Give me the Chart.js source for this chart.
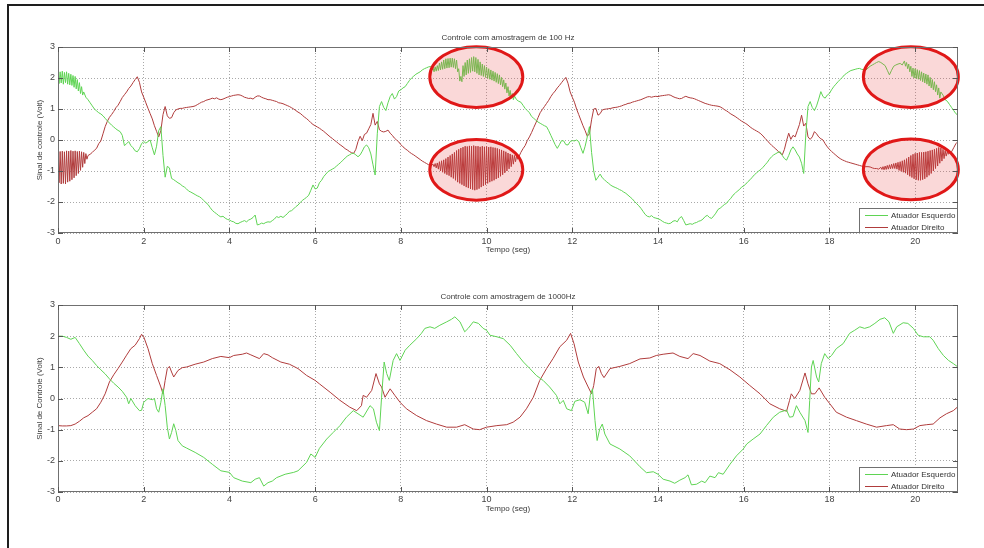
<!DOCTYPE html>
<html>
<head>
<meta charset="utf-8">
<script src="https://cdn.jsdelivr.net/npm/chart.js@4"></script>
<style>
  body { margin: 0; background: #fff; width: 984px; height: 548px; overflow: hidden; position: relative; }
  #frame { position: absolute; left: 7px; top: 4px; width: 1000px; height: 560px; border-top: 2px solid #1e1e1e; border-left: 2px solid #1e1e1e; }
  canvas { position: absolute; left: 0; }
  #top-chart { top: 0; }
  #bottom-chart { top: 265px; }
</style>
</head>
<body>
<div id="frame"></div>
<canvas id="top-chart" width="984" height="265"></canvas>
<canvas id="bottom-chart" width="984" height="283"></canvas>
<script>
// top plot: 100 Hz sampling, one value every 0.05 s from 0 to 21 s
const topStep = 0.05;

const topGreen = [
  2.15, 1.85, 2.2, 1.82, 2.22, 1.8, 2.15, 1.75, 2.05, 1.65, 1.85, 1.45, 1.55, 1.38, 1.3, 1.2, 1.1, 1.0, 0.94, 0.88,
  0.84, 0.78, 0.7, 0.62, 0.55, 0.48, 0.42, 0.36, 0.31, 0.27, 0.15, -0.18, -0.12, -0.05, -0.18, -0.25, -0.35, -0.38, -0.28, -0.12,
  -0.05, -0.1, -0.05, 0.0, -0.25, -0.48, -0.2, 0.3, 0.43, -0.5, -1.2, -0.85, -0.9, -1.24, -1.28, -1.33, -1.38, -1.42, -1.48, -1.52,
  -1.58, -1.65, -1.68, -1.72, -1.76, -1.8, -1.83, -1.88, -1.95, -2.02, -2.08, -2.18, -2.27, -2.33, -2.38, -2.44, -2.48, -2.46, -2.52, -2.56,
  -2.58, -2.62, -2.64, -2.69, -2.7, -2.66, -2.63, -2.6, -2.64, -2.58, -2.55, -2.5, -2.42, -2.74, -2.72, -2.68, -2.7, -2.66, -2.64, -2.65,
  -2.6, -2.55, -2.47, -2.5, -2.46, -2.5, -2.44, -2.38, -2.3, -2.28, -2.22, -2.15, -2.1, -2.02, -1.95, -1.9, -1.85, -1.78, -1.62, -1.45,
  -1.58, -1.55, -1.38, -1.3, -1.18, -1.1, -1.02, -0.98, -0.94, -0.9, -0.84, -0.78, -0.72, -0.65, -0.58, -0.52, -0.48, -0.44, -0.43, -0.48,
  -0.54, -0.48, -0.36, -0.22, -0.16, -0.25, -0.45, -0.8, -1.13, 0.2, 1.08, 1.24, 1.05, 0.95, 1.2, 1.4, 1.5, 1.32, 1.4, 1.58,
  1.62, 1.68, 1.72, 1.82, 1.92, 2.0, 2.06, 2.12, 2.16, 2.2, 2.26, 2.3, 2.33, 2.36, 2.37, 2.32, 2.22, 2.4, 2.26, 2.5,
  2.3, 2.62, 2.32, 2.64, 2.35, 2.6, 2.25, 2.1, 1.85, 2.4, 2.05, 2.6, 2.22, 2.68, 2.25, 2.65, 2.12, 2.45, 2.05, 2.35,
  2.0, 2.3, 1.95, 2.2, 1.88, 2.12, 1.78, 2.02, 1.62, 1.8, 1.38, 1.58, 1.28, 1.4, 1.3, 1.25, 1.22, 1.12, 1.02, 0.95,
  0.88, 0.76, 0.7, 0.64, 0.58, 0.54, 0.5, 0.46, 0.43, 0.3, 0.15, 0.0, -0.15, -0.27, -0.15, -0.02, -0.03, -0.15, -0.16, -0.05,
  -0.02, -0.03, 0.0, -0.05, -0.25, -0.43, -0.2, 0.1, 0.43, -0.4, -1.0, -1.3, -1.2, -1.1, -1.22, -1.28, -1.35, -1.4, -1.46, -1.5,
  -1.53, -1.56, -1.6, -1.63, -1.68, -1.72, -1.78, -1.84, -1.9, -1.98, -2.05, -2.12, -2.2, -2.3, -2.4, -2.46, -2.48, -2.44, -2.5, -2.52,
  -2.54, -2.57, -2.62, -2.66, -2.68, -2.7, -2.68, -2.62, -2.6, -2.64, -2.52, -2.47, -2.6, -2.74, -2.72, -2.7, -2.72, -2.68, -2.66, -2.62,
  -2.6, -2.55, -2.47, -2.43, -2.5, -2.53, -2.45, -2.36, -2.24, -2.2, -2.14, -2.08, -2.04, -1.95, -1.88, -1.78, -1.72, -1.65, -1.6, -1.52,
  -1.48, -1.42, -1.34, -1.28, -1.2, -1.12, -1.06, -1.0, -0.95, -0.88, -0.8, -0.72, -0.62, -0.54, -0.48, -0.44, -0.4, -0.38, -0.5, -0.6,
  -0.65, -0.5, -0.32, -0.22, -0.32, -0.45, -0.55, -0.75, -1.08, 0.2, 1.08, 1.24, 1.05, 0.95, 1.1, 1.32, 1.56, 1.4, 1.35, 1.45,
  1.5, 1.62, 1.72, 1.8, 1.88, 1.95, 2.02, 2.1, 2.15, 2.2, 2.24, 2.26, 2.28, 2.3, 2.31, 2.28, 2.27, 2.26, 2.32, 2.38,
  2.42, 2.46, 2.5, 2.53, 2.5, 2.45, 2.4, 2.25, 2.1, 2.25, 2.38, 2.42, 2.45, 2.47, 2.42, 2.56, 2.36, 2.5, 2.25, 2.4,
  2.05, 2.3, 1.98, 2.22, 1.92, 2.15, 1.8, 2.05, 1.7, 1.92, 1.55, 1.72, 1.35, 1.45, 1.3, 1.25, 1.15, 1.05, 0.95, 0.85,
  0.8
];

const topRed = [
  -0.35, -1.38, -0.38, -1.4, -0.36, -1.35, -0.35, -1.25, -0.35, -1.12, -0.36, -0.95, -0.4, -0.72, -0.5, -0.46, -0.4, -0.33, -0.27, -0.12,
  -0.03, 0.2, 0.43, 0.6, 0.73, 0.82, 0.92, 1.04, 1.12, 1.24, 1.37, 1.46, 1.55, 1.66, 1.74, 1.85, 1.95, 2.04, 1.86, 1.55,
  1.38, 1.2, 1.02, 0.85, 0.68, 0.46, 0.28, 0.1, 0.3, 0.82, 1.08, 0.78, 0.7, 0.72, 0.88, 0.97, 1.0, 1.02, 1.02, 1.04,
  1.05, 1.06, 1.07, 1.08, 1.1, 1.14, 1.18, 1.22, 1.24, 1.28, 1.3, 1.32, 1.35, 1.33, 1.36, 1.32, 1.3, 1.32, 1.35, 1.38,
  1.4, 1.42, 1.44, 1.45, 1.46, 1.45, 1.42, 1.38, 1.36, 1.34, 1.35, 1.32, 1.38, 1.42, 1.42, 1.38, 1.35, 1.33, 1.3, 1.3,
  1.28, 1.26, 1.24, 1.2, 1.19, 1.17, 1.14, 1.11, 1.08, 1.04, 1.0, 0.95, 0.9, 0.86, 0.8, 0.74, 0.69, 0.63, 0.56, 0.5,
  0.46, 0.42, 0.38, 0.33, 0.28, 0.22, 0.16, 0.1, 0.05, -0.01, -0.06, -0.12, -0.17, -0.22, -0.28, -0.32, -0.37, -0.41, -0.43, -0.3,
  -0.05, 0.12, -0.02, 0.18, 0.22, 0.36, 0.5, 0.86, 0.48, 0.6, 0.33, 0.28, 0.26, 0.28, 0.32, 0.22, 0.15, 0.06, 0.0, -0.06,
  -0.15, -0.22, -0.28, -0.33, -0.39, -0.44, -0.48, -0.53, -0.58, -0.63, -0.68, -0.72, -0.76, -0.8, -0.84, -0.78, -0.9, -0.72, -0.98, -0.66,
  -1.05, -0.6, -1.12, -0.5, -1.2, -0.42, -1.3, -0.3, -1.4, -0.22, -1.48, -0.2, -1.55, -0.22, -1.6, -0.2, -1.58, -0.22, -1.5, -0.22,
  -1.42, -0.22, -1.35, -0.24, -1.28, -0.28, -1.2, -0.32, -1.1, -0.38, -0.98, -0.45, -0.85, -0.5, -0.7, -0.55, -0.4, -0.28, -0.18, -0.02,
  0.1, 0.24, 0.4, 0.55, 0.72, 0.88, 0.98, 1.08, 1.18, 1.28, 1.4, 1.5, 1.58, 1.68, 1.76, 1.85, 1.94, 2.02, 1.83, 1.55,
  1.38, 1.22, 1.0, 0.82, 0.64, 0.46, 0.3, 0.12, 0.2, 0.65, 1.0, 1.02, 0.8, 0.85, 0.97, 0.99, 1.0, 1.01, 1.02, 1.04,
  1.05, 1.06, 1.08, 1.1, 1.13, 1.15, 1.18, 1.19, 1.22, 1.24, 1.26, 1.28, 1.3, 1.33, 1.36, 1.39, 1.4, 1.38, 1.4, 1.41,
  1.4, 1.42, 1.43, 1.44, 1.45, 1.46, 1.44, 1.4, 1.37, 1.35, 1.33, 1.34, 1.38, 1.41, 1.38, 1.36, 1.35, 1.33, 1.3, 1.27,
  1.24, 1.21, 1.18, 1.16, 1.14, 1.12, 1.11, 1.1, 1.09, 1.07, 1.03, 0.98, 0.94, 0.89, 0.84, 0.8, 0.76, 0.71, 0.66, 0.61,
  0.57, 0.53, 0.48, 0.42, 0.37, 0.33, 0.29, 0.25, 0.2, 0.13, 0.05, -0.02, -0.1, -0.17, -0.23, -0.29, -0.36, -0.43, -0.48, -0.3,
  -0.02, 0.22, 0.02, 0.15, 0.1, 0.3, 0.5, 0.8, 0.45, 0.54, 0.1, 0.02, 0.1, 0.27, 0.2, 0.1, 0.04, 0.0, -0.12, -0.22,
  -0.3, -0.37, -0.43, -0.49, -0.55, -0.6, -0.64, -0.67, -0.7, -0.72, -0.74, -0.76, -0.78, -0.8, -0.82, -0.84, -0.86, -0.86, -0.86, -0.87,
  -0.9, -0.92, -0.92, -0.94, -0.9, -0.95, -0.82, -0.92, -0.8, -0.9, -0.74, -0.92, -0.72, -1.0, -0.68, -1.06, -0.6, -1.15, -0.52, -1.22,
  -0.45, -1.28, -0.42, -1.3, -0.4, -1.25, -0.38, -1.15, -0.35, -1.0, -0.32, -0.85, -0.3, -0.72, -0.35, -0.55, -0.45, -0.38, -0.25, -0.12,
  -0.05
];

// stretches where the 100 Hz signal chatters; read at a finer 0.025 s spacing
const burstStep = 0.025;

const greenBurstStart = [
  2.15, 1.82, 2.2, 1.84, 2.22, 1.8, 2.18, 1.85, 2.2, 1.8, 2.15, 1.78, 2.12, 1.76, 2.08, 1.7, 2.05, 1.65, 1.95, 1.58,
  1.85, 1.5, 1.72, 1.45, 1.55
];
const greenBurstMid = [
  2.32, 2.2, 2.36, 2.22, 2.4, 2.24, 2.48, 2.26, 2.52, 2.28,
  2.58, 2.3, 2.62, 2.32, 2.63, 2.33, 2.64, 2.35, 2.64, 2.34, 2.62, 2.3, 2.58, 2.2, 2.3, 1.9, 2.05, 1.88, 2.4, 2.05,
  2.5, 2.1, 2.58, 2.15, 2.62, 2.18, 2.66, 2.22, 2.69, 2.2, 2.66, 2.15, 2.6, 2.1, 2.52, 2.08, 2.45, 2.05, 2.4, 2.02,
  2.35, 1.99, 2.3, 1.96, 2.26, 1.93, 2.22, 1.9, 2.18, 1.86, 2.14, 1.82, 2.1, 1.78, 2.02, 1.72, 1.94, 1.64, 1.84, 1.52,
  1.72, 1.42, 1.6, 1.34, 1.5, 1.3, 1.42
];
const greenBurstEnd = [
  2.55, 2.38, 2.5, 2.3, 2.45, 2.2, 2.38, 2.05, 2.32, 2.0,
  2.3, 1.98, 2.27, 1.96, 2.24, 1.92, 2.2, 1.88, 2.16, 1.84, 2.13, 1.8, 2.1, 1.74, 2.02, 1.68, 1.95, 1.62, 1.88, 1.56,
  1.78, 1.45, 1.68, 1.35, 1.55
];
const redBurstStart = [
  -0.35, -1.38, -0.37, -1.42, -0.36, -1.4, -0.38, -1.42, -0.35, -1.36, -0.36, -1.33, -0.34, -1.28, -0.36, -1.22, -0.35, -1.15, -0.37, -1.08,
  -0.36, -0.98, -0.38, -0.88, -0.4, -0.76, -0.44, -0.62, -0.5
];
const redBurstMid = [
  -0.78, -0.86, -0.76, -0.9, -0.74, -0.94, -0.7, -1.0, -0.67, -1.04,
  -0.64, -1.08, -0.6, -1.12, -0.55, -1.15, -0.5, -1.2, -0.45, -1.24, -0.4, -1.3, -0.34, -1.36, -0.3, -1.4, -0.26, -1.44, -0.23, -1.48,
  -0.2, -1.52, -0.21, -1.55, -0.19, -1.58, -0.2, -1.6, -0.18, -1.62, -0.2, -1.6, -0.2, -1.57, -0.22, -1.52, -0.2, -1.48, -0.22, -1.44,
  -0.21, -1.4, -0.23, -1.36, -0.22, -1.33, -0.24, -1.3, -0.25, -1.26, -0.27, -1.22, -0.3, -1.17, -0.32, -1.12, -0.35, -1.06, -0.38, -1.0,
  -0.42, -0.93, -0.45, -0.86, -0.48, -0.78, -0.5, -0.7, -0.52, -0.62, -0.55
];
const redBurstEnd = [
  -0.88, -0.95, -0.86, -0.96, -0.84, -0.95, -0.82, -0.94, -0.8, -0.93, -0.78, -0.92, -0.76, -0.92, -0.74, -0.94, -0.72, -0.98, -0.7, -1.01,
  -0.67, -1.04, -0.64, -1.07, -0.6, -1.12, -0.55, -1.17, -0.5, -1.21, -0.46, -1.25,
  -0.43, -1.28, -0.42, -1.3, -0.4, -1.3, -0.4, -1.28, -0.39, -1.25, -0.38, -1.2, -0.36, -1.14, -0.34, -1.08, -0.32, -1.0,
  -0.3, -0.92, -0.27, -0.84, -0.24, -0.75, -0.26, -0.68, -0.3, -0.6, -0.34, -0.52, -0.38, -0.46, -0.4
];

const greenBursts = [
  { from: 0, values: greenBurstStart },
  { from: 8.75, values: greenBurstMid },
  { from: 19.75, values: greenBurstEnd }
];
const redBursts = [
  { from: 0, values: redBurstStart },
  { from: 8.75, values: redBurstMid },
  { from: 19.2, values: redBurstEnd }
];

// bottom plot: 1000 Hz sampling, [time (s), volt]
const bottomGreen = [
  [0, 2.0], [0.1, 2.0], [0.2, 1.96], [0.3, 1.9], [0.4, 1.96], [0.5, 1.76], [0.6, 1.55], [0.7, 1.36], [0.8, 1.22], [0.9, 1.06],
  [1.0, 0.92], [1.1, 0.79], [1.2, 0.63], [1.3, 0.49], [1.4, 0.37], [1.5, 0.23], [1.6, 0.04], [1.65, -0.17], [1.7, 0.0], [1.8, -0.23], [1.9, -0.39], [1.95, -0.38],
  [2.0, -0.12], [2.1, 0.0], [2.2, -0.04], [2.25, 0.0], [2.3, -0.33], [2.35, -0.44], [2.4, -0.12], [2.45, 0.31], [2.5, -0.23], [2.55, -0.92], [2.6, -1.3], [2.65, -1.09], [2.7, -0.81], [2.75, -1.03], [2.8, -1.35], [2.9, -1.52],
  [3.0, -1.59], [3.2, -1.73], [3.4, -1.89], [3.6, -2.11], [3.8, -2.32], [4.0, -2.37], [4.1, -2.54], [4.3, -2.65], [4.5, -2.7], [4.6, -2.59], [4.7, -2.54], [4.8, -2.81], [4.9, -2.7],
  [5.0, -2.65], [5.1, -2.54], [5.3, -2.43], [5.5, -2.37], [5.6, -2.32], [5.8, -2.05], [5.9, -1.78], [6.0, -1.89], [6.1, -1.6], [6.27, -1.3], [6.42, -1.09], [6.58, -0.87], [6.73, -0.6], [6.89, -0.39],
  [7.0, -0.49], [7.12, -0.6], [7.28, -0.23], [7.36, -0.33], [7.43, -0.76], [7.5, -1.03], [7.55, 0.04], [7.61, 1.17], [7.67, 0.8], [7.73, 0.58], [7.82, 1.22], [7.9, 1.44], [7.98, 1.22],
  [8.1, 1.55], [8.21, 1.71], [8.37, 1.92], [8.48, 2.09], [8.56, 2.25], [8.68, 2.3], [8.79, 2.25], [8.91, 2.35],
  [9.07, 2.46], [9.18, 2.54], [9.26, 2.62], [9.38, 2.46], [9.49, 2.14], [9.57, 2.25], [9.69, 2.46], [9.81, 2.41], [9.92, 2.25],
  [10.0, 2.19], [10.08, 2.03], [10.24, 1.98], [10.39, 1.92], [10.55, 1.71], [10.7, 1.44], [10.86, 1.17],
  [11.01, 0.96], [11.16, 0.74], [11.32, 0.58], [11.47, 0.37], [11.63, 0.1], [11.71, -0.17], [11.79, -0.06], [11.87, -0.33], [11.98, -0.39],
  [12.06, -0.09], [12.18, -0.04], [12.29, -0.12], [12.37, -0.49], [12.42, 0.1], [12.47, 0.31], [12.53, -0.71], [12.58, -1.35], [12.64, -0.98], [12.7, -0.82], [12.76, -1.14], [12.88, -1.46],
  [13.11, -1.62], [13.34, -1.84], [13.58, -2.19], [13.73, -2.38], [13.89, -2.35],
  [14.0, -2.43], [14.12, -2.59], [14.28, -2.65], [14.39, -2.72], [14.51, -2.62], [14.63, -2.54], [14.7, -2.45], [14.78, -2.77], [14.9, -2.75],
  [15.02, -2.65], [15.1, -2.7], [15.21, -2.49], [15.33, -2.54], [15.41, -2.38], [15.52, -2.43], [15.68, -2.11], [15.83, -1.84], [15.99, -1.62],
  [16.07, -1.46], [16.22, -1.3], [16.38, -1.14], [16.53, -0.87], [16.69, -0.6], [16.84, -0.44],
  [17.0, -0.37], [17.07, -0.6], [17.15, -0.58], [17.23, -0.23], [17.31, -0.44], [17.43, -0.71], [17.5, -1.09], [17.54, -0.06], [17.58, 1.01], [17.62, 1.22], [17.7, 0.69], [17.75, 0.53], [17.81, 1.12], [17.89, 1.44], [17.97, 1.28],
  [18.05, 1.38], [18.16, 1.6], [18.32, 1.76], [18.47, 2.09], [18.59, 2.19], [18.71, 2.3], [18.82, 2.25], [18.94, 2.3],
  [19.06, 2.41], [19.18, 2.54], [19.29, 2.59], [19.39, 2.46], [19.49, 2.09], [19.57, 2.3], [19.72, 2.43], [19.83, 2.41], [19.96, 2.25],
  [20.07, 2.03], [20.19, 1.98], [20.34, 1.98], [20.42, 1.87], [20.54, 1.6], [20.66, 1.38], [20.78, 1.22], [20.89, 1.12], [21.0, 1.01]
];

const bottomRed = [
  [0, -0.87], [0.1, -0.88], [0.2, -0.88], [0.3, -0.87], [0.4, -0.82], [0.5, -0.73], [0.6, -0.62], [0.7, -0.55], [0.8, -0.44], [0.9, -0.33],
  [1.0, -0.12], [1.1, 0.15], [1.2, 0.53], [1.3, 0.76], [1.4, 0.96], [1.5, 1.17], [1.6, 1.39], [1.7, 1.6], [1.8, 1.71], [1.9, 1.92], [1.95, 2.06],
  [2.0, 1.98], [2.1, 1.6], [2.2, 1.12], [2.3, 0.74], [2.4, 0.37], [2.45, 0.15], [2.5, 0.58], [2.55, 0.96], [2.6, 1.03], [2.65, 0.85], [2.7, 0.69], [2.8, 0.9], [2.9, 0.99],
  [3.0, 1.01], [3.2, 1.1], [3.4, 1.17], [3.6, 1.28], [3.8, 1.35], [4.0, 1.31], [4.1, 1.38], [4.3, 1.42], [4.4, 1.46], [4.5, 1.4], [4.7, 1.28], [4.8, 1.44], [4.9, 1.4],
  [5.0, 1.31], [5.2, 1.17], [5.4, 1.1], [5.6, 0.96], [5.8, 0.74], [6.0, 0.58], [6.1, 0.47], [6.35, 0.2], [6.58, -0.06], [6.81, -0.28], [6.97, -0.39],
  [7.08, -0.23], [7.12, 0.1], [7.2, 0.04], [7.32, 0.26], [7.42, 0.8], [7.5, 0.47], [7.55, 0.37], [7.63, 0.04], [7.75, 0.31], [7.86, 0.1], [7.98, -0.12],
  [8.13, -0.33], [8.37, -0.55], [8.6, -0.71], [8.83, -0.82], [9.07, -0.92], [9.3, -0.92], [9.49, -0.84], [9.69, -0.98], [9.84, -1.0],
  [10.0, -0.92], [10.24, -0.87], [10.47, -0.84], [10.62, -0.76], [10.78, -0.6], [10.93, -0.33],
  [11.09, 0.04], [11.24, 0.58], [11.4, 0.96], [11.55, 1.28], [11.71, 1.66], [11.87, 1.87], [11.96, 2.09],
  [12.04, 1.76], [12.14, 1.17], [12.26, 0.69], [12.37, 0.37], [12.45, 0.15], [12.5, 0.42], [12.56, 0.96], [12.62, 1.03], [12.68, 0.8], [12.74, 0.67], [12.88, 0.96],
  [13.11, 1.03], [13.34, 1.12], [13.58, 1.27], [13.81, 1.3], [13.96, 1.38],
  [14.12, 1.42], [14.35, 1.46], [14.51, 1.35], [14.7, 1.28], [14.82, 1.44], [14.98, 1.38],
  [15.21, 1.2], [15.44, 1.12], [15.68, 0.92], [15.91, 0.69], [16.14, 0.42], [16.38, 0.15], [16.61, -0.17], [16.84, -0.33],
  [17.0, -0.41], [17.07, -0.06], [17.11, 0.15], [17.19, 0.0], [17.31, 0.26], [17.43, 0.82], [17.5, 0.47], [17.58, 0.15], [17.66, 0.15], [17.76, 0.34], [17.89, 0.04],
  [18.01, -0.17], [18.16, -0.44], [18.4, -0.6], [18.63, -0.71], [18.86, -0.82],
  [19.1, -0.92], [19.33, -0.87], [19.49, -0.84], [19.64, -0.98], [19.8, -1.0], [19.96, -0.98],
  [20.11, -0.87], [20.27, -0.84], [20.42, -0.82], [20.58, -0.62], [20.73, -0.49], [20.89, -0.39], [21.0, -0.26]
];

const seriesNames = ['Atuador Esquerdo', 'Atuador Direito'];
const seriesColors = ['#5fd454', '#b03c3c'];
const chartTitles = ['Controle com amostragem de 100 Hz', 'Controle com amostragem de 1000Hz'];
const yTitles = ['Sinal de controle (Volt)', 'Sinal de Controle (Volt)'];
const xTitle = 'Tempo (seg)';

// red ellipses drawn on the top plot, in data units (centre, half width, half height)
const highlights = [
  { x: 9.76, y: 2.03, rx: 1.085, ry: 0.98 },
  { x: 9.76, y: -0.96, rx: 1.085, ry: 0.98 },
  { x: 19.9, y: 2.03, rx: 1.108, ry: 0.98 },
  { x: 19.9, y: -0.95, rx: 1.108, ry: 0.98 }
];

const FONT = '"Liberation Sans", Arial, sans-serif';
Chart.defaults.font.family = FONT;

const matlabLook = {
  id: 'matlab',
  afterDatasetsDraw(chart, args, opts) {
    const { ctx, scales: { x, y } } = chart;
    (opts.highlights || []).forEach(h => {
      const cx = x.getPixelForValue(h.x);
      const cy = y.getPixelForValue(h.y);
      const rx = Math.abs(x.getPixelForValue(h.x + h.rx) - cx);
      const ry = Math.abs(y.getPixelForValue(h.y + h.ry) - cy);
      ctx.save();
      ctx.beginPath();
      ctx.ellipse(cx, cy, rx, ry, 0, 0, Math.PI * 2);
      ctx.fillStyle = 'rgba(232, 60, 60, 0.2)';
      ctx.fill();
      ctx.lineWidth = 3;
      ctx.strokeStyle = '#e01818';
      ctx.stroke();
      ctx.restore();
    });
  },
  afterDraw(chart, args, opts) {
    const { ctx, chartArea: a, scales: { x, y } } = chart;
    ctx.save();
    // axes box
    ctx.strokeStyle = '#707070';
    ctx.lineWidth = 1;
    ctx.strokeRect(a.left + 0.5, a.top + 0.5, a.right - a.left - 1, a.bottom - a.top - 1);
    // inward tick marks on all four sides
    ctx.strokeStyle = '#555';
    ctx.beginPath();
    x.ticks.forEach(t => {
      const px = Math.round(x.getPixelForValue(t.value)) + 0.5;
      ctx.moveTo(px, a.bottom); ctx.lineTo(px, a.bottom - 5);
      ctx.moveTo(px, a.top); ctx.lineTo(px, a.top + 5);
    });
    y.ticks.forEach(t => {
      const py = Math.round(y.getPixelForValue(t.value)) + 0.5;
      ctx.moveTo(a.left, py); ctx.lineTo(a.left + 5, py);
      ctx.moveTo(a.right, py); ctx.lineTo(a.right - 5, py);
    });
    ctx.stroke();

    // titles
    const mid = (a.left + a.right) / 2;
    ctx.fillStyle = '#3a3a3a';
    ctx.font = '8px ' + FONT;
    ctx.textAlign = 'center';
    ctx.textBaseline = 'middle';
    ctx.fillText(opts.title, mid, a.top - opts.titleGap);
    ctx.fillText(opts.xTitle, mid, a.bottom + 17);
    ctx.save();
    ctx.translate(40, (a.top + a.bottom) / 2);
    ctx.rotate(-Math.PI / 2);
    ctx.fillText(opts.yTitle, 0, 0);
    ctx.restore();

    // legend box, bottom right inside the axes
    const lx = a.right - 99, ly = a.bottom - 25;
    ctx.fillStyle = '#fff';
    ctx.fillRect(lx, ly, a.right - lx, a.bottom - ly);
    ctx.strokeStyle = '#707070';
    ctx.strokeRect(lx + 0.5, ly + 0.5, a.right - lx - 1, a.bottom - ly - 1);
    ctx.textAlign = 'left';
    chart.data.datasets.forEach((ds, i) => {
      const ry = Math.round(a.bottom - 18 + i * 12) + 0.5;
      ctx.strokeStyle = ds.borderColor;
      ctx.beginPath();
      ctx.moveTo(lx + 6, ry);
      ctx.lineTo(lx + 29, ry);
      ctx.stroke();
      ctx.fillStyle = '#333';
      ctx.fillText(ds.label, lx + 32, ry);
    });
    ctx.restore();
  }
};

function makeChart(canvasId, series, opts) {
  const canvas = document.getElementById(canvasId);
  return new Chart(canvas.getContext('2d'), {
    type: 'line',
    data: {
      datasets: series.map((points, i) => ({
        label: seriesNames[i],
        data: points,
        borderColor: seriesColors[i],
        backgroundColor: seriesColors[i],
        borderWidth: 1,
        pointRadius: 0,
        tension: 0,
        fill: false
      }))
    },
    options: {
      responsive: false,
      animation: false,
      devicePixelRatio: 1,
      layout: { padding: { top: opts.plotTop, right: 26, left: 0, bottom: 0 } },
      scales: {
        x: {
          type: 'linear',
          min: 0,
          max: 21,
          afterFit: s => { s.height = opts.xAxisHeight; },
          ticks: { stepSize: 2, includeBounds: false, color: '#444', font: { size: 9 }, padding: opts.tickPad, maxRotation: 0 },
          grid: { color: '#a9a9a9', lineWidth: 1, drawTicks: false, borderDash: [1, 2] },
          border: { display: false, dash: [1, 2] }
        },
        y: {
          min: -3,
          max: 3,
          afterFit: s => { s.width = 58; },
          ticks: { stepSize: 1, color: '#444', font: { size: 9 }, padding: 3 },
          grid: { color: '#a9a9a9', lineWidth: 1, drawTicks: false, borderDash: [1, 2] },
          border: { display: false, dash: [1, 2] }
        }
      },
      plugins: {
        legend: { display: false },
        tooltip: { enabled: false },
        matlab: {
          title: opts.title,
          titleGap: opts.titleGap,
          xTitle: xTitle,
          yTitle: opts.yTitle,
          highlights: opts.highlights
        }
      }
    },
    plugins: [matlabLook]
  });
}

// 0.05 s samples, replaced by the finer readings where a burst covers them
function topSeries(base, bursts) {
  const spans = bursts.map(b => [b.from, b.from + (b.values.length - 1) * burstStep]);
  const inBurst = t => spans.some(([a, b]) => t >= a - 1e-9 && t <= b + 1e-9);
  const points = [];
  base.forEach((v, i) => {
    const t = i * topStep;
    if (!inBurst(t)) points.push({ x: t, y: v });
  });
  bursts.forEach(b => b.values.forEach((v, i) => points.push({ x: b.from + i * burstStep, y: v })));
  return points.sort((p, q) => p.x - q.x);
}

const topPoints = [topSeries(topGreen, greenBursts), topSeries(topRed, redBursts)];
const bottomPoints = [bottomGreen, bottomRed].map(pairs => pairs.map(([t, v]) => ({ x: t, y: v })));

makeChart('top-chart', topPoints, {
  plotTop: 47, xAxisHeight: 32, tickPad: 3, titleGap: 9,
  title: chartTitles[0], yTitle: yTitles[0], highlights: highlights
});

makeChart('bottom-chart', bottomPoints, {
  plotTop: 40, xAxisHeight: 56, tickPad: 2, titleGap: 8,
  title: chartTitles[1], yTitle: yTitles[1], highlights: []
});
</script>
</body>
</html>
